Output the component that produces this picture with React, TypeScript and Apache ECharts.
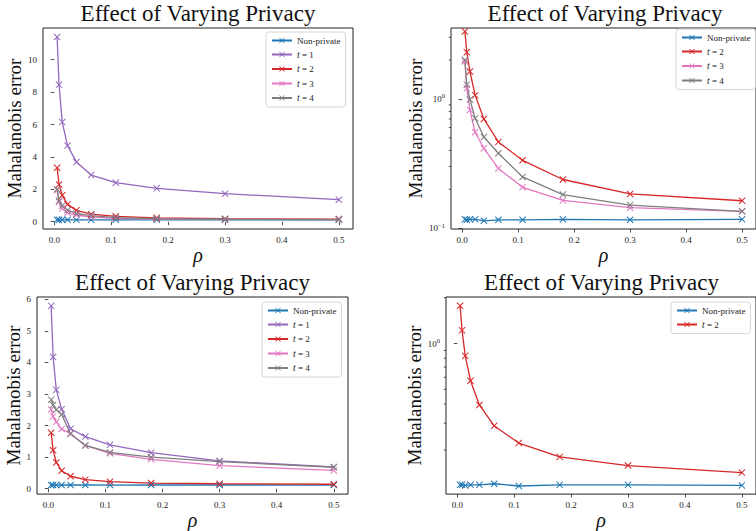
import React, { useEffect, useRef } from "react";
import * as echarts from "echarts";

// rho values (shared by all panels)
const RHO = [0.005, 0.0084, 0.014, 0.0233, 0.0389, 0.0648, 0.108, 0.18, 0.3, 0.5];

// Top row (linear left, log right)
const TOP_NONPRIVATE = [0.117, 0.116, 0.117, 0.117, 0.114, 0.116, 0.116, 0.117, 0.116, 0.117];
const TOP_T1 = [11.4, 8.45, 6.15, 4.7, 3.68, 2.88, 2.41, 2.06, 1.73, 1.36];
const TOP_T2 = [3.33, 2.3, 1.63, 1.07, 0.7, 0.465, 0.335, 0.238, 0.184, 0.163];
const TOP_T3 = [1.95, 1.21, 0.82, 0.552, 0.415, 0.29, 0.207, 0.164, 0.144, 0.135];
const TOP_T4 = [2.0, 1.29, 0.99, 0.71, 0.508, 0.38, 0.249, 0.182, 0.151, 0.135];

// Bottom row (linear left, log right)
const BOT_NONPRIVATE = [0.118, 0.118, 0.117, 0.118, 0.118, 0.12, 0.116, 0.118, 0.118, 0.117];
const BOT_T1 = [5.79, 4.17, 3.13, 2.52, 1.9, 1.65, 1.39, 1.14, 0.88, 0.69];
const BOT_T2 = [1.77, 1.22, 0.83, 0.57, 0.395, 0.288, 0.222, 0.18, 0.158, 0.142];
const BOT_T3 = [2.51, 2.29, 2.12, 1.89, 1.74, 1.37, 1.12, 0.93, 0.73, 0.58];
const BOT_T4 = [2.82, 2.65, 2.5, 2.35, 1.74, 1.37, 1.15, 1.0, 0.86, 0.68];

// Tick values
const X_TICKS = [0, 0.1, 0.2, 0.3, 0.4, 0.5];
const TL_Y_TICKS = [0, 2, 4, 6, 8, 10];
const TR_Y_TICKS = [0.1, 1];
const BL_Y_TICKS = [0, 1, 2, 3, 4, 5, 6];
const BR_Y_TICKS = [1];
// Minor tick positions of the log axes
const TR_MINOR = [0.2, 0.3, 0.4, 0.5, 0.6, 0.7, 0.8, 0.9, 2, 3];
const BR_MINOR = [0.2, 0.3, 0.4, 0.5, 0.6, 0.7, 0.8, 0.9, 2];

const TITLE = "Effect of Varying Privacy";
const Y_NAME = "Mahalanobis error";
const X_NAME = "ρ";

const C_NP = "#1f77b4";
const C_T1 = "#9467bd";
const C_T2 = "#d62728";
const C_T3 = "#e377c2";
const C_T4 = "#7f7f7f";

const FONT = "'Liberation Serif', 'DejaVu Serif', serif";
const XSYM = "path://M0,1L1,0L5,4L9,0L10,1L6,5L10,9L9,10L5,6L1,10L0,9L4,5Z";
const X_MIN = -0.0198;
const X_MAX = 0.5248;

const GRIDS = [
  { left: 43, top: 28, width: 310, height: 201 },
  { left: 451, top: 28, width: 309, height: 201 },
  { left: 37, top: 297, width: 311, height: 201 },
  { left: 446, top: 297, width: 311, height: 200 },
];

export default function App() {
  const ref = useRef<HTMLDivElement>(null);
  useEffect(() => {
    document.body.style.margin = "0";
    if (!ref.current) return;
    const chart = echarts.init(ref.current, undefined, { renderer: "svg" });

    const line = (name: string, vals: number[], color: string, g: number) => ({
      type: "line",
      name,
      xAxisIndex: g,
      yAxisIndex: g,
      data: RHO.map((x, i) => [x, vals[i]]),
      symbol: XSYM,
      symbolSize: 7,
      showSymbol: true,
      lineStyle: { color, width: 1.3 },
      itemStyle: { color },
      emphasis: { disabled: true },
    });

    const minor = (vals: number[], g: number) => ({
      type: "custom",
      xAxisIndex: g,
      yAxisIndex: g,
      silent: true,
      clip: false,
      data: vals.map((v) => [X_MIN, v]),
      renderItem: (_p: any, api: any) => {
        const pt = api.coord([api.value(0), api.value(1)]);
        return {
          type: "line",
          shape: { x1: pt[0] - 2.2, y1: pt[1], x2: pt[0], y2: pt[1] },
          style: { stroke: "#222", lineWidth: 0.8 },
        };
      },
    });

    const tick = (values: number[]) => ({
      show: true,
      length: 3.5,
      customValues: values,
      lineStyle: { color: "#222", width: 0.8 },
    });

    const labelBase = {
      margin: 6,
      fontFamily: FONT,
      fontSize: 9,
      color: "#222",
      showMinLabel: true,
      showMaxLabel: true,
      hideOverlap: false,
    };

    const xAxis = (g: number) => ({
      type: "value",
      gridIndex: g,
      min: X_MIN,
      max: X_MAX,
      name: X_NAME,
      nameLocation: "middle",
      nameGap: 4,
      nameTextStyle: { fontFamily: FONT, fontSize: 20, fontStyle: "italic", color: "#111", verticalAlign: "top" },
      axisLine: { show: false },
      axisTick: tick(X_TICKS),
      splitLine: { show: false },
      axisLabel: {
        ...labelBase,
        customValues: X_TICKS,
        formatter: (v: number) => v.toFixed(1),
      },
    });

    const supRich = { s: { fontFamily: FONT, fontSize: 6.5, color: "#222", padding: [0, 0, 6, 0] } };
    const logLabel = (v: number) => {
      const e = Math.round(Math.log10(v));
      return `10{s|${e < 0 ? "−" + -e : e}}`;
    };

    const yLinear = (g: number, min: number, max: number, gap: number, ticks: number[]) => ({
      type: "value",
      gridIndex: g,
      min,
      max,
      name: Y_NAME,
      nameLocation: "middle",
      nameRotate: 90,
      nameGap: gap,
      nameTextStyle: { fontFamily: FONT, fontSize: 19, color: "#111" },
      axisLine: { show: false },
      axisTick: tick(ticks),
      splitLine: { show: false },
      axisLabel: {
        ...labelBase,
        customValues: ticks,
        formatter: (v: number) => String(Math.round(v)),
      },
    });

    const yLog = (g: number, min: number, max: number, gap: number, ticks: number[]) => ({
      type: "log",
      logBase: 10,
      gridIndex: g,
      min,
      max,
      name: Y_NAME,
      nameLocation: "middle",
      nameRotate: 90,
      nameGap: gap,
      nameTextStyle: { fontFamily: FONT, fontSize: 19, color: "#111" },
      axisLine: { show: false },
      axisTick: tick(ticks),
      splitLine: { show: false },
      axisLabel: {
        ...labelBase,
        customValues: ticks,
        formatter: logLabel,
        rich: supRich,
      },
    });

    const legendFmt = (name: string) =>
      name === "Non-private" ? `{n|${name}}` : `{i|t}{n| = ${name.slice(-1)}}`;
    const legend = (left: number, top: number, data: string[]) => ({
      left,
      top,
      orient: "vertical",
      data,
      itemWidth: 20,
      itemHeight: 7,
      itemGap: 4.5,
      padding: [4, 5, 4, 5],
      backgroundColor: "#fff",
      borderColor: "#cccccc",
      borderWidth: 0.8,
      borderRadius: 3,
      formatter: legendFmt,
      textStyle: {
        fontFamily: FONT,
        fontSize: 9,
        color: "#222",
        rich: {
          i: { fontFamily: FONT, fontSize: 9.5, fontStyle: "italic", color: "#222" },
          n: { fontFamily: FONT, fontSize: 9, color: "#222" },
        },
      },
      selectedMode: false,
    });

    const titleText = (cx: number, y: number) => ({
      type: "text",
      x: cx,
      y,
      style: {
        text: TITLE,
        fontFamily: FONT,
        fontSize: 23,
        fill: "#111",
        align: "center",
        verticalAlign: "top",
        textAlign: "center",
        textVerticalAlign: "top",
      },
    });

    const all5 = ["Non-private", "t = 1", "t = 2", "t = 3", "t = 4"];
    const no1 = ["Non-private", "t = 2", "t = 3", "t = 4"];

    chart.setOption({
      animation: false,
      grid: GRIDS.map((g) => ({
        ...g,
        show: true,
        backgroundColor: "#fff",
        borderColor: "#222",
        borderWidth: 1,
        containLabel: false,
      })),
      xAxis: [xAxis(0), xAxis(1), xAxis(2), xAxis(3)],
      yAxis: [
        yLinear(0, -0.45, 11.96, 14, TL_Y_TICKS),
        yLog(1, 0.0985, 3.54, 24, TR_Y_TICKS),
        yLinear(2, -0.17, 6.07, 8, BL_Y_TICKS),
        yLog(3, 0.1026, 2.02, 19, BR_Y_TICKS),
      ],
      legend: [
        legend(266, 32, all5),
        legend(676, 29, no1),
        legend(262, 302, all5),
        legend(671, 302, ["Non-private", "t = 2"]),
      ],
      graphic: [titleText(198, 2), titleText(605, 2), titleText(192.5, 271), titleText(601.5, 271)],
      series: [
        line("Non-private", TOP_NONPRIVATE, C_NP, 0),
        line("t = 1", TOP_T1, C_T1, 0),
        line("t = 2", TOP_T2, C_T2, 0),
        line("t = 3", TOP_T3, C_T3, 0),
        line("t = 4", TOP_T4, C_T4, 0),

        line("Non-private", TOP_NONPRIVATE, C_NP, 1),
        line("t = 2", TOP_T2, C_T2, 1),
        line("t = 3", TOP_T3, C_T3, 1),
        line("t = 4", TOP_T4, C_T4, 1),
        minor(TR_MINOR, 1),

        line("Non-private", BOT_NONPRIVATE, C_NP, 2),
        line("t = 1", BOT_T1, C_T1, 2),
        line("t = 2", BOT_T2, C_T2, 2),
        line("t = 3", BOT_T3, C_T3, 2),
        line("t = 4", BOT_T4, C_T4, 2),

        line("Non-private", BOT_NONPRIVATE, C_NP, 3),
        line("t = 2", BOT_T2, C_T2, 3),
        minor(BR_MINOR, 3),
      ],
    });
    return () => chart.dispose();
  }, []);
  return <div ref={ref} style={{ width: 756, height: 531 }} />;
}
